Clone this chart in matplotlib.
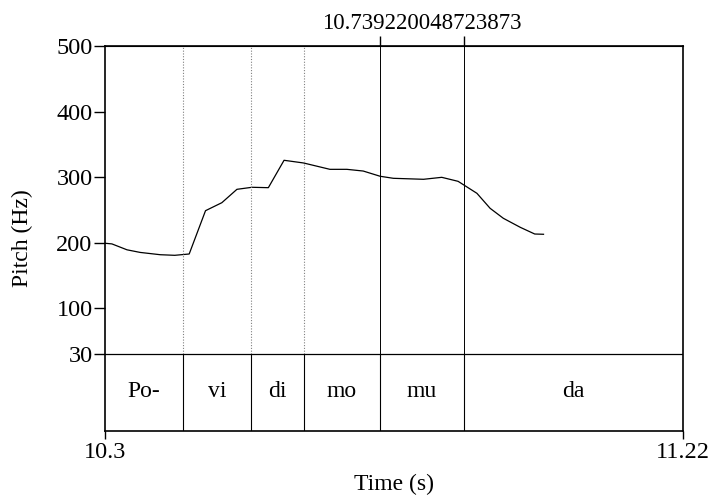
import matplotlib.pyplot as plt

plt.rcParams['font.family'] = ['Liberation Serif', 'DejaVu Serif']

# Pitch track (time in s, pitch in Hz)
times = [10.300, 10.311, 10.335, 10.356, 10.388, 10.411, 10.434, 10.460, 10.486,
         10.510, 10.534, 10.560, 10.585, 10.616, 10.658, 10.685, 10.711, 10.738,
         10.759, 10.807, 10.836, 10.862, 10.892, 10.913, 10.934, 10.961, 10.984, 10.998]
pitch = [199, 198, 189, 185, 181.5, 180.6, 182.6, 248.7, 260.9,
         281.3, 284.4, 283.8, 325.6, 321.5, 311.8, 311.8, 309.2, 301.2,
         298.1, 296.6, 299.6, 293.5, 275.2, 252.3, 237.1, 223.3, 213.1, 212.7]

# Syllable tier
boundaries = [10.3, 10.4242, 10.5324, 10.6167, 10.7377, 10.8714, 11.22]
syllables = ['Po-', 'vi', 'di', 'mo', 'mu', 'da']
dotted = [10.4242, 10.5324, 10.6167]
solid = [10.7377, 10.8714]
top_label = '10.739220048723873'

t_min, t_max = 10.3, 11.22
f_min, f_max = 30, 500
tier_bottom = -87.5

fig = plt.figure(figsize=(7.12, 4.97), dpi=100)
ax = fig.add_axes([105 / 712, 66 / 497, 578 / 712, 385 / 497])

ax.plot(times, pitch, color='black', lw=0.9)

for b in dotted:
    ax.plot([b, b], [f_min, f_max], color='gray', lw=0.8, ls=(0, (1, 1.5)))
for b in solid:
    ax.plot([b, b], [f_min, f_max], color='black', lw=0.7)
for b in boundaries[1:-1]:
    ax.plot([b, b], [tier_bottom, f_min], color='black', lw=0.8)
ax.axhline(f_min, color='black', lw=0.9)

mid_y = (tier_bottom + f_min) / 2
for i, s in enumerate(syllables):
    ax.text((boundaries[i] + boundaries[i + 1]) / 2, mid_y + 2, s,
            ha='center', va='center', fontsize=17)

ax.set_xlim(t_min, t_max)
ax.set_ylim(tier_bottom, f_max)
ax.set_yticks([30, 100, 200, 300, 400, 500])
ax.set_xticks([t_min, t_max])
ax.set_xticklabels(['10.3', '11.22'])
ax.tick_params(axis='both', labelsize=17.5, width=1, direction='out', color='black')
ax.tick_params(axis='y', length=8, pad=1)
ax.tick_params(axis='x', length=6, pad=2)
for sp in ax.spines.values():
    sp.set_linewidth(1.2)

# top ticks at the solid boundaries
axt = ax.secondary_xaxis('top')
axt.set_xticks(solid)
axt.set_xticklabels(['', ''])
axt.tick_params(length=7, width=1, direction='out')
ax.text((solid[0] + solid[1]) / 2, f_max + 19, top_label, ha='center', va='bottom',
        fontsize=16.5)

ax.set_ylabel('Pitch (Hz)', fontsize=17, labelpad=17)
ax.set_xlabel('Time (s)', fontsize=17, labelpad=8)

fig.savefig('out.png', dpi=100)
